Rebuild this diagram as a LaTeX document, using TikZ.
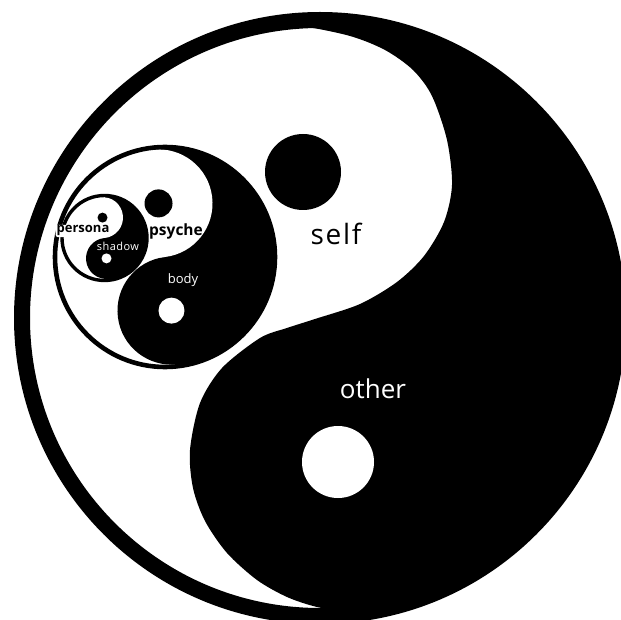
\documentclass[tikz,border=0pt]{standalone}
\usepackage{fontspec}
\setmainfont{Open Sans}
\newcommand{\pfont}{\bfseries\fontsize{13}{13}\selectfont}
\begin{document}
\begin{tikzpicture}[x=1pt,y=-1pt,
  dotb/.style={circle, fill=black, inner sep=0pt, outer sep=0pt},
  dotw/.style={circle, fill=white, inner sep=0pt, outer sep=0pt},
  ring/.style={draw=black},
  lbl/.style={inner sep=0pt, outer sep=0pt, anchor=base}]
\useasboundingbox (0,0) rectangle (621,620);
\clip (0,0) rectangle (621,620);
\fill[white] (0,0) rectangle (621,620);
% ---- big yin-yang: self / other
\begin{scope}
  \clip (320,318) circle[radius=292];
  \fill[white] (320,318) circle[radius=292];
  \fill[black] (240,-30) -- plot[smooth, tension=0.5] coordinates {
    (240,22) (300,26) (350,36) (385,50) (413,70) (432,96) (447,140)
    (452,185) (444,222) (424,256) (397,282) (360,304) (315,319)
    (287,328) (260,338) (222,368) (200,403) (190,450) (193,488)
    (205,521) (227,553) (257,580) (287,597) (317,607) (350,612) (400,616)}
    -- (400,650) -- (680,650) -- (680,-30) -- cycle;
\end{scope}
\draw[ring, line width=16pt] (320,318) circle[radius=298];
\node[dotb, minimum size=76pt] (selfdot) at (303,172) {};
\node[dotw, minimum size=72pt] (otherdot) at (338,462) {};
% ---- psyche / body
\begin{scope}[shift={(165,257)}, rotate=6.9]
  \clip (0,0) circle[radius=109];
  \fill[white] (0,0) circle[radius=109];
  \fill[black] (0,-115) rectangle (115,115);
  \fill[black] (0,54) circle[radius=54];
  \fill[white] (0,-54) circle[radius=54];
  \node[dotb, minimum size=28pt] (psychedot) at (0,-54) {};
  \node[dotw, minimum size=26pt] (bodydot) at (0,54) {};
\end{scope}
\draw[ring, line width=4.6pt] (165,257) circle[radius=110];
% ---- persona / shadow
\begin{scope}[shift={(104.5,238)}, rotate=5.6]
  \clip (0,0) circle[radius=41.8];
  \fill[white] (0,0) circle[radius=41.8];
  \fill[black] (0,-45) rectangle (45,45);
  \fill[black] (0,20.5) circle[radius=20.5];
  \fill[white] (0,-20.5) circle[radius=20.5];
  \node[dotb, minimum size=10pt] (personadot) at (0,-20.5) {};
  \node[dotw, minimum size=10pt] (shadowdot) at (0,20.5) {};
\end{scope}
\draw[ring, line width=3.4pt] (104.5,238) circle[radius=42.5];
% ---- labels
\node[lbl, font=\fontsize{28}{28}\selectfont\addfontfeature{LetterSpace=6}] (self) at (336,245) {self};
\node[lbl, text=white, font=\fontsize{26}{26}\selectfont] (other) at (373,398) {other};
\node[lbl, font=\bfseries\fontsize{15.5}{15.5}\selectfont] (psyche) at (176,236) {psyche};
\node[lbl, text=white, font=\fontsize{13}{13}\selectfont] (body) at (183,284) {body};
\node[lbl, font=\pfont, fill=white, inner sep=0.9pt, rounded corners=2pt] (persona) at (83,233) {persona};
\node[lbl, text=white, font=\fontsize{11}{11}\selectfont\addfontfeature{LetterSpace=4}] (shadow) at (118,251) {shadow};
\end{tikzpicture}
\end{document}
